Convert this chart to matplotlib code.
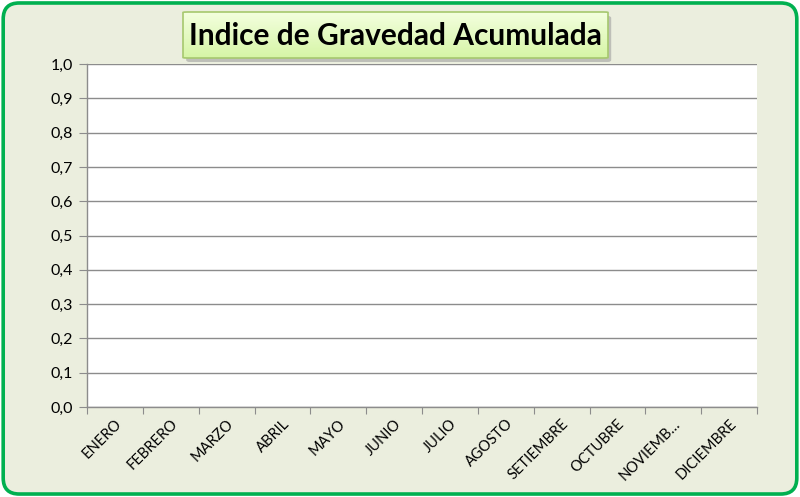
import matplotlib
matplotlib.use("Agg")
import matplotlib.pyplot as plt
import numpy as np
from matplotlib.patches import FancyBboxPatch
from matplotlib.colors import LinearSegmentedColormap

# data
months = ["ENERO", "FEBRERO", "MARZO", "ABRIL", "MAYO", "JUNIO", "JULIO",
          "AGOSTO", "SETIEMBRE", "OCTUBRE", "NOVIEMB…", "DICIEMBRE"]
y_ticks = [0.0, 0.1, 0.2, 0.3, 0.4, 0.5, 0.6, 0.7, 0.8, 0.9, 1.0]
title = "Indice de Gravedad Acumulada"

plt.rcParams["font.family"] = ["Lato", "DejaVu Sans"]

fig = plt.figure(figsize=(8, 4.97), dpi=100)
fig.patch.set_facecolor("white")

# outer rounded frame
frame = FancyBboxPatch((0.004, 0.006), 0.992, 0.988, transform=fig.transFigure,
                       boxstyle="round,pad=0,rounding_size=0.02",
                       facecolor="#EBEEDE", edgecolor="#00B050", linewidth=2.6,
                       mutation_aspect=800 / 497, zorder=-2)
fig.patches.append(frame)

ax = fig.add_axes([87 / 800, 1 - 407 / 497, 670 / 800, 343 / 497])
ax.set_facecolor("white")
ax.set_xlim(0, len(months))
ax.set_ylim(0, 1.0)

ax.set_yticks(y_ticks)
ax.set_yticklabels([f"{v:.1f}".replace(".", ",") for v in y_ticks])
ax.grid(axis="y", color="#8C8C8C", linewidth=1)
ax.set_axisbelow(True)

ax.set_xticks(np.arange(len(months) + 1))
ax.set_xticklabels([])
ax.set_xticks(np.arange(len(months)) + 0.5, minor=True)
ax.set_xticklabels(months, minor=True, rotation=45, ha="right", va="top",
                   rotation_mode="anchor", fontsize=10.5, color="black")
ax.tick_params(axis="x", which="minor", length=0, pad=7)
ax.tick_params(axis="x", which="major", length=5, color="#8C8C8C", direction="out")
ax.tick_params(axis="y", length=6, color="#8C8C8C", labelsize=11.5,
               labelcolor="black", pad=4)

for s in ["top", "right"]:
    ax.spines[s].set_visible(False)
for s in ["left", "bottom"]:
    ax.spines[s].set_color("#8C8C8C")
    ax.spines[s].set_linewidth(1)

# title box with gradient and shadow
bx0, by0, bw, bh = 183 / 800, 1 - 58 / 497, 425 / 800, 46 / 497
shadow = FancyBboxPatch((bx0 + 0.004, by0 - 0.008), bw, bh, transform=fig.transFigure,
                        boxstyle="round,pad=0,rounding_size=0.004",
                        facecolor="#A0A0A0", edgecolor="none", alpha=0.6, zorder=-1)
fig.patches.append(shadow)
tax = fig.add_axes([bx0, by0, bw, bh])
tax.axis("off")
grad = np.linspace(0, 1, 100).reshape(-1, 1)
cmap = LinearSegmentedColormap.from_list("g", ["#F4FFE0", "#D6F5A6"])
tax.imshow(grad, aspect="auto", cmap=cmap, extent=[0, 1, 0, 1], origin="upper")
tax.set_xlim(0, 1)
tax.set_ylim(0, 1)
border = FancyBboxPatch((0, 0), 1, 1, transform=tax.transAxes,
                        boxstyle="round,pad=0,rounding_size=0.01",
                        facecolor="none", edgecolor="#A6C86E", linewidth=1.2,
                        clip_on=False)
tax.add_patch(border)
tax.text(0.5, 0.47, title, ha="center", va="center", fontsize=21.5,
         fontweight="bold", color="black", transform=tax.transAxes)

fig.savefig("out.png", dpi=100, facecolor=fig.get_facecolor())
